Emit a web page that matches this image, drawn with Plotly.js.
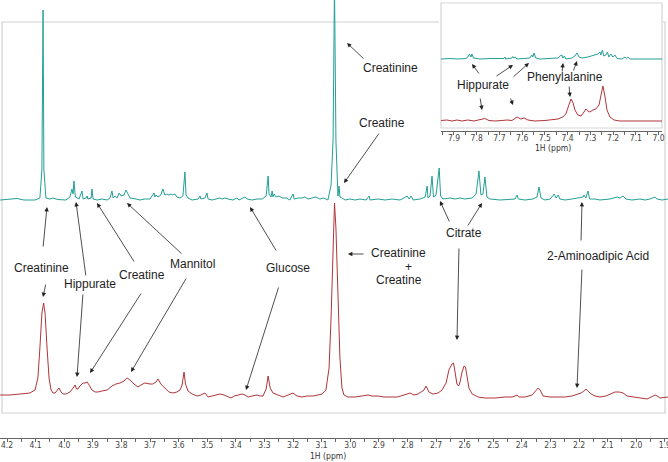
<!DOCTYPE html>
<html>
<head>
<meta charset="utf-8">
<script src="https://cdn.plot.ly/plotly-3.0.1.min.js"></script>
<style>html,body{margin:0;padding:0;background:#fff;}#chart{width:668px;height:462px;}</style>
</head>
<body>
<div id="chart"></div>
<script>
// ---------- DATA (intensities in arbitrary units above each baseline) ----------
const tealPpm = [4.224,4.190,4.165,4.141,4.102,4.085,4.078,4.074,4.071,4.064,4.050,4.039,4.022,3.994,3.980,3.973,3.969,3.966,3.961,3.948,3.938,3.934,3.924,3.920,3.917,3.906,3.903,3.899,3.885,3.868,3.850,3.840,3.833,3.829,3.822,3.815,3.808,3.801,3.791,3.784,3.777,3.770,3.749,3.735,3.718,3.700,3.693,3.686,3.683,3.679,3.672,3.662,3.655,3.648,3.641,3.634,3.627,3.620,3.613,3.606,3.595,3.585,3.578,3.574,3.567,3.553,3.532,3.525,3.522,3.508,3.501,3.497,3.483,3.462,3.455,3.448,3.438,3.427,3.410,3.396,3.389,3.375,3.368,3.361,3.343,3.326,3.308,3.294,3.287,3.284,3.277,3.273,3.270,3.266,3.259,3.249,3.238,3.224,3.211,3.200,3.196,3.182,3.169,3.158,3.148,3.134,3.120,3.106,3.092,3.078,3.067,3.060,3.055,3.050,3.046,3.043,3.039,3.036,3.029,3.018,3.001,2.983,2.966,2.945,2.934,2.931,2.903,2.878,2.854,2.826,2.812,2.801,2.794,2.787,2.780,2.756,2.738,2.731,2.728,2.721,2.714,2.709,2.700,2.689,2.684,2.676,2.651,2.634,2.616,2.599,2.574,2.560,2.550,2.543,2.536,2.529,2.522,2.511,2.476,2.441,2.424,2.417,2.412,2.389,2.361,2.347,2.340,2.333,2.319,2.301,2.294,2.287,2.280,2.273,2.267,2.249,2.225,2.197,2.186,2.183,2.176,2.169,2.163,2.144,2.127,2.092,2.074,2.067,2.057,2.046,2.036,2.015,1.987,1.969,1.952,1.934,1.927,1.910,1.889];
const tealInt = [0,1,1.5,0,0,2,30,190,30,2, 1,2,0.5,0,3,11,6,19,3,1, 9,1,2,4,1,2,11,1,0,1, 0,2,9,2,4,2,7,4,5,10, 6,2,1,0,1,1,4,7,3,5, 3,5,11,5,6,5,6,5,6,3, 2,4,28,5,2,0,1,4,1,2, 7,1,0,1,2,1,2,1,0,2, 0,2,3,1,0,1,1,4,24,6, 3,9,3,6,3,4,2,2,0,6, 1,2,2,3,1,2,3,1,2,0, 15,60,215,60,12,4,14,3,2,0, 1,0,1,0,4,0,1,0,1,0, 2,4,1,4,0,1,3,14,2,4, 24,3,5,32,4,1,2,1,2,1, 2,6,29,5,6,23,3,1,0,1, 1,5,1,0,1,3,13,2,0,1, 3,6,2,5,1,0,1,2,3,5, 2,9,1,1,0,1,2,3,2,4, 1,0,1,0,1,3,1,0,1];

const redPpm = [4.224,4.190,4.155,4.120,4.102,4.092,4.085,4.078,4.072,4.067, 4.060,4.053,4.046,4.039,4.032,4.025,4.018,4.011,4.004,3.994, 3.980,3.969,3.962,3.957,3.952,3.945,3.934,3.927,3.920,3.913, 3.903,3.892,3.882,3.868,3.850,3.833,3.819,3.805,3.791,3.780, 3.770,3.756,3.742,3.732,3.718,3.700,3.690,3.679,3.672,3.662, 3.648,3.634,3.620,3.606,3.595,3.588,3.581,3.576,3.567,3.553, 3.536,3.522,3.508,3.497,3.483,3.469,3.455,3.441,3.427,3.417, 3.406,3.392,3.378,3.368,3.357,3.343,3.326,3.315,3.305,3.294, 3.287,3.280,3.270,3.252,3.235,3.217,3.200,3.186,3.169,3.151, 3.130,3.113,3.099,3.085,3.074,3.067,3.060,3.055,3.050,3.043, 3.036,3.029,3.022,3.008,2.983,2.959,2.938,2.924,2.903,2.882, 2.861,2.836,2.812,2.791,2.777,2.763,2.742,2.735,2.725,2.711, 2.693,2.679,2.665,2.655,2.644,2.639,2.634,2.627,2.621,2.616, 2.609,2.602,2.597,2.592,2.585,2.574,2.553,2.529,2.494,2.459, 2.434,2.424,2.417,2.410,2.389,2.364,2.354,2.343,2.336,2.326, 2.301,2.273,2.249,2.225,2.207,2.193,2.183,2.176,2.169,2.158, 2.144,2.127,2.106,2.092,2.074,2.060,2.046,2.032,2.011,1.987, 1.962,1.948,1.934,1.927,1.917,1.889];
const redInt = [3,3,4,5,8,20,50,85,95,85, 50,20,8,5,5,7,10,6,4,4, 6,10,13,9,9,12,15,15,16,13, 8,6,6,7,8,12,14,15,17,20, 18,14,11,13,15,14,14,16,19,14, 10,6,5,6,8,13,26,14,7,4, 2,3,5,1,2,3,4,3,1,0, 2,3,4,3,1,2,3,2,2,9, 22,10,5,3,1,3,5,2,1,2, 2,3,4,8,30,80,150,195,170,110, 40,10,3,1,1,2,3,2,2,1, 1,1,3,5,3,4,8,12,6,4, 5,8,15,28,34,35,27,14,12,16, 26,32,31,22,10,4,1,0,0,1, 1,2,3,1,1,3,6,10,8,2, 1,1,1,2,4,5,7,9,7,4, 2,1,2,4,6,6,5,2,1,0, -1,1,3,2,0,1];

const insetTealPpm = [7.957,7.918,7.883,7.847,7.839,7.832,7.825,7.821,7.814,7.786,7.742,7.698,7.680,7.676,7.672,7.645,7.641,7.636,7.630,7.623,7.588,7.566,7.557,7.553,7.548,7.540,7.522,7.478,7.443,7.434,7.425,7.421,7.414,7.408,7.381,7.368,7.359,7.350,7.337,7.311,7.293,7.280,7.267,7.258,7.254,7.247,7.241,7.232,7.225,7.219,7.210,7.201,7.192,7.183,7.161,7.148,7.142,7.135,7.126,7.060,6.985];
const insetTealInt = [0,0.5,0,0.5,2,5,2,5,1,0,0.5,0,0.5,2,0,1,2.5,1,2,0,0.5,1,4,2,6,1,0,0.5,1,3,4,1,3,0,1,3,6,2,1,2,3,4,5,7,4,9,3,4,7,2,5,2,4,0.5,0,2,0.5,2,0,0,0];

const insetRedPpm = [7.957,7.931,7.909,7.887,7.865,7.839,7.812,7.786,7.764,7.746,7.720,7.689,7.667,7.645,7.623,7.606,7.592,7.575,7.544,7.500,7.469,7.443,7.421,7.408,7.396,7.385,7.376,7.368,7.355,7.341,7.328,7.320,7.311,7.302,7.289,7.276,7.262,7.254,7.245,7.236,7.227,7.214,7.196,7.170,7.126,7.060,7.016,6.985];
const insetRedInt = [0.5,1,0,1,0,1,0,1,2.5,0.5,0,0.5,1,0.5,4,2,3,1,0,0.5,1,2,4,7,15,22,18,11,6,5,9,12,10,9,11,12,16,25,35,25,11,4,1,0,0,0.5,0,0];

const peakLabels = ["Creatinine","Hippurate","Creatine","Mannitol","Glucose","Creatinine","Creatine","Creatinine","+","Creatine","Citrate","2-Aminoadipic Acid"];
const insetLabels = ["Hippurate","Phenylalanine"];
const axisTitle = "1H (ppm)";

// ---------- LAYOUT HELPERS ----------
const W = 668, PH = 438;
const px = x => x / W;
const py = y => (PH - y) / PH;
const TEAL = '#23a096', RED = '#b0353a';
const OFF_TEAL = 238, OFF_RED = 40, OFF_ITEAL = 72, OFF_IRED = 10;

const traces = [
  {x: redPpm, y: redInt.map(v => v + OFF_RED), type: 'scatter', mode: 'lines', line: {color: RED, width: 1}, xaxis: 'x', yaxis: 'y', hoverinfo: 'skip'},
  {x: tealPpm, y: tealInt.map(v => v + OFF_TEAL), type: 'scatter', mode: 'lines', line: {color: TEAL, width: 1}, xaxis: 'x', yaxis: 'y', hoverinfo: 'skip'},
  {x: insetRedPpm, y: insetRedInt.map(v => v + OFF_IRED), type: 'scatter', mode: 'lines', line: {color: RED, width: 1}, xaxis: 'x2', yaxis: 'y2', hoverinfo: 'skip'},
  {x: insetTealPpm, y: insetTealInt.map(v => v + OFF_ITEAL), type: 'scatter', mode: 'lines', line: {color: TEAL, width: 1}, xaxis: 'x2', yaxis: 'y2', hoverinfo: 'skip'}
];

const labFont = {family: 'Liberation Sans, Arial, sans-serif', size: 12, color: '#1e1e1e'};
const tickFont = {family: 'DejaVu Sans Condensed, Liberation Sans, sans-serif', size: 8.5, color: '#444'};
const titleFont = {family: 'DejaVu Sans Condensed, Liberation Sans, sans-serif', size: 8.5, color: '#333'};

const labelPos = [[41,268],[90,284],[142,275],[192,264],[288,268],[390,68],[382,123],[398,253],[408,267],[399,280],[464,233],[598,256]];
const insetLabelPos = [[483,85],[565,77]];
const arrows = [
  [43,248,47,207],[46,283,43,297],[86,277,76,202],[83,293,77,377],[135,263,97,203],[142,292,90,373],
  [183,255,127,203],[187,277,131,372],[277,252,250,207],[279,286,246,390],[365,60,347,43],[380,132,344,183],
  [365,254,348,254],[450,223,440,201],[467,227,482,203],[459,247,457,340],[581,242,582,202],[582,268,577,388],
  [480,75,472,64],[495,77,513,65],[512,78,529,63],[480,97,482,110],[510,97,513,105],[562,73,563,63],[573,72,577,61],[569,85,570,97]
];

const annotations = [];
peakLabels.forEach((t, i) => annotations.push({xref:'paper', yref:'paper', x:px(labelPos[i][0]), y:py(labelPos[i][1]), text:t, showarrow:false, xanchor:'center', yanchor:'middle', font:labFont}));
insetLabels.forEach((t, i) => annotations.push({xref:'paper', yref:'paper', x:px(insetLabelPos[i][0]), y:py(insetLabelPos[i][1]), text:t, showarrow:false, xanchor:'center', yanchor:'middle', font:labFont}));
arrows.forEach(a => annotations.push({xref:'paper', yref:'paper', x:px(a[2]), y:py(a[3]), ax:a[0]-a[2], ay:a[1]-a[3], axref:'pixel', ayref:'pixel', text:'', showarrow:true, arrowhead:2, arrowsize:1.1, arrowwidth:0.8, arrowcolor:'#222', standoff:0}));
annotations.push({xref:'paper', yref:'paper', x:px(328), y:py(456), text:axisTitle, showarrow:false, xanchor:'center', yanchor:'middle', font:titleFont});
annotations.push({xref:'paper', yref:'paper', x:px(553), y:py(148), text:axisTitle, showarrow:false, xanchor:'center', yanchor:'middle', font:titleFont});

const axisStyle = {
  showline: true, linecolor: '#666', linewidth: 1, ticks: 'outside', ticklen: 3, tickcolor: '#666',
  ticklabelstandoff: -4, ticklabeloverflow: 'allow',
  dtick: 0.1, tick0: 0, tickformat: '.1f', tickfont: tickFont, showgrid: false, zeroline: false,
  minor: {dtick: 0.05, ticks: 'outside', ticklen: 3, tickcolor: '#666', showgrid: false}, fixedrange: true
};

const layout = {
  width: 668, height: 462,
  margin: {l: 0, r: 0, t: 0, b: 24, pad: 0},
  paper_bgcolor: '#fff', plot_bgcolor: 'rgba(0,0,0,0)',
  showlegend: false,
  xaxis: Object.assign({}, axisStyle, {domain: [0, 1], range: [4.2245, 1.889], anchor: 'y'}),
  yaxis: {domain: [0, 1], range: [0, 438], visible: false, fixedrange: true},
  xaxis2: Object.assign({}, axisStyle, {domain: [px(441), px(662)], range: [7.957, 6.985], anchor: 'y2'}),
  yaxis2: {domain: [py(131), py(3)], range: [0, 128], visible: false, fixedrange: true, anchor: 'x2'},
  shapes: [
    {type:'rect', xref:'paper', yref:'paper', x0:px(2), x1:px(665), y0:py(413), y1:py(22), line:{color:'#d2d2d2', width:1.2}, layer:'below'},
    {type:'rect', xref:'paper', yref:'paper', x0:px(439), x1:px(663), y0:py(154), y1:py(0), fillcolor:'#fff', line:{width:0}, layer:'below'},
    {type:'rect', xref:'paper', yref:'paper', x0:px(441), x1:px(662), y0:py(128), y1:py(3), line:{color:'#d6d6d6', width:1.2}, layer:'below'}
  ],
  annotations: annotations
};

Plotly.newPlot('chart', traces, layout, {displayModeBar: false, staticPlot: true});
</script>
</body>
</html>
